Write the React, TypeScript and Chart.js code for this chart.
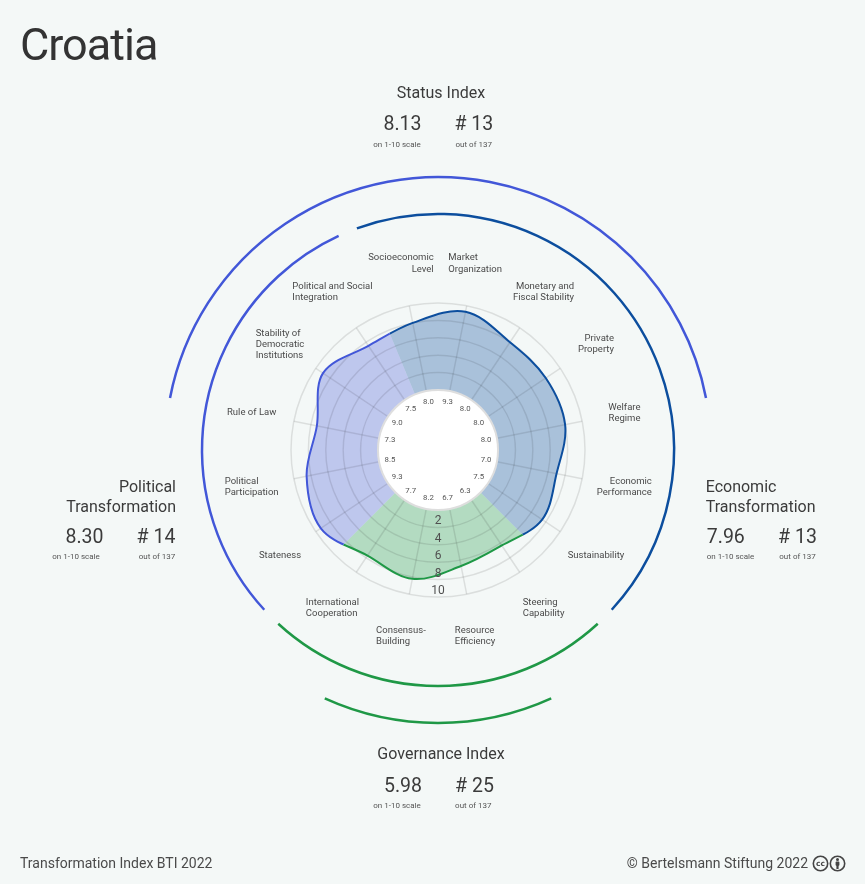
import { useEffect, useRef } from "react";
import { Chart, registerables } from "chart.js";

Chart.register(...registerables);

// criteria, clockwise from the top (economic, governance, political)
const CRITERIA: string[][] = [
  ["Socioeconomic", "Level"],
  ["Market", "Organization"],
  ["Monetary and", "Fiscal Stability"],
  ["Private", "Property"],
  ["Welfare", "Regime"],
  ["Economic", "Performance"],
  ["Sustainability"],
  ["Steering", "Capability"],
  ["Resource", "Efficiency"],
  ["Consensus-", "Building"],
  ["International", "Cooperation"],
  ["Stateness"],
  ["Political", "Participation"],
  ["Rule of Law"],
  ["Stability of", "Democratic", "Institutions"],
  ["Political and Social", "Integration"],
];
const SCORES = [8.0, 9.3, 8.0, 8.0, 8.0, 7.0, 7.5, 6.3, 6.7, 8.2, 7.7, 9.3, 8.5, 7.3, 9.0, 7.5];
const SECTION_SIZES = [7, 4, 5]; // economic, governance, political
const TICKS = [2, 4, 6, 8, 10];

const INDEX_TITLES = [["Status Index"], ["Political", "Transformation"], ["Economic", "Transformation"], ["Governance Index"]];
const INDEX_SCORES = ["8.13", "8.30", "7.96", "5.98"];
const INDEX_RANKS = [13, 14, 13, 25];
const COUNTRY_COUNT = 137;

// styles
const BG = "#f4f8f7";
const FONT = "Roboto, 'Noto Sans', sans-serif";
const SECTION_COLORS = ["#0c4e9e", "#1f9846", "#4257d8"];
const SECTION_FILLS = ["rgba(12,78,158,0.32)", "rgba(31,152,70,0.3)", "rgba(66,87,216,0.3)"];
const GRID = "rgba(0,0,0,0.1)";
const LABEL_ALIGN = ["right", "left", "right", "right", "right", "right", "left", "left",
  "left", "left", "left", "left", "left", "left", "left", "left"];

const HALF_PI = Math.PI / 2;
const rad = (d: number) => (d * Math.PI) / 180;

function paintShape(chart: any, mode: "fill" | "stroke") {
  const s = chart.scales.r;
  const line = chart.getDatasetMeta(0).dataset;
  if (!line || !line.points || !line.points.length) return;
  line.updateControlPoints(chart.chartArea, "r");
  const ctx = chart.ctx;
  const step = (Math.PI * 2) / CRITERIA.length;
  let first = 0;
  SECTION_SIZES.forEach((n, k) => {
    const a0 = s.getIndexAngle(first) - HALF_PI - step / 2;
    const a1 = a0 + n * step;
    ctx.save();
    ctx.beginPath();
    ctx.moveTo(s.xCenter, s.yCenter);
    ctx.arc(s.xCenter, s.yCenter, s.drawingArea * 2, a0, a1);
    ctx.closePath();
    ctx.clip();
    ctx.beginPath();
    line.path(ctx);
    ctx.closePath();
    if (mode === "fill") {
      ctx.fillStyle = SECTION_FILLS[k];
      ctx.fill();
    } else {
      ctx.strokeStyle = SECTION_COLORS[k];
      ctx.lineWidth = 2;
      ctx.lineJoin = "round";
      ctx.stroke();
    }
    ctx.restore();
    first += n;
  });
}

const decorPlugin = {
  id: "btiDecor",
  afterDatasetsDraw(chart: any) {
    paintShape(chart, "fill");
  },
  afterDraw(chart: any) {
    const ctx = chart.ctx;
    const s = chart.scales.r;
    const cx = s.xCenter, cy = s.yCenter, R = s.drawingArea;
    paintShape(chart, "stroke");

    // inner disc with the criterion scores
    const r0 = s.getDistanceFromCenterForValue(0);
    ctx.save();
    ctx.beginPath();
    ctx.arc(cx, cy, r0, 0, Math.PI * 2);
    ctx.fillStyle = "#ffffff";
    ctx.fill();
    ctx.lineWidth = 2;
    ctx.strokeStyle = "#dedede";
    ctx.stroke();

    ctx.textAlign = "center";
    ctx.textBaseline = "middle";
    ctx.fillStyle = "#555";
    ctx.font = `7.8px ${FONT}`;
    SCORES.forEach((v, i) => {
      const p = s.getPointPosition(i, r0 - 11);
      ctx.fillText(v.toFixed(1), p.x, p.y);
    });

    // ring values along the bottom
    ctx.font = `12px ${FONT}`;
    ctx.fillStyle = "#505050";
    TICKS.forEach((t) => {
      ctx.fillText(String(t), cx, cy + s.getDistanceFromCenterForValue(t) - 6);
    });

    // criterion names
    ctx.font = `9.5px ${FONT}`;
    ctx.fillStyle = "#4a4a4a";
    const lh = 11.3;
    CRITERIA.forEach((lines, i) => {
      const p = s.getPointPosition(i, R + 43);
      const w = Math.max(...lines.map((l) => ctx.measureText(l).width));
      const align = LABEL_ALIGN[i];
      ctx.textAlign = align as CanvasTextAlign;
      const x = align === "left" ? p.x - w / 2 : p.x + w / 2;
      lines.forEach((l, j) => {
        ctx.fillText(l, x, p.y + (j - (lines.length - 1) / 2) * lh);
      });
    });

    // section arcs
    const step = (Math.PI * 2) / CRITERIA.length;
    const gap = rad(2.4);
    ctx.lineWidth = 2.5;
    ctx.lineCap = "butt";
    let first = 0;
    SECTION_SIZES.forEach((n, k) => {
      const a0 = s.getIndexAngle(first) - HALF_PI - step / 2;
      ctx.beginPath();
      ctx.arc(cx, cy, R + 89, a0 + gap, a0 + n * step - gap);
      ctx.strokeStyle = SECTION_COLORS[k];
      ctx.stroke();
      first += n;
    });
    // status index arc (top) and governance index arc (bottom)
    ctx.beginPath();
    ctx.arc(cx, cy, R + 126, rad(-79) - HALF_PI, rad(79) - HALF_PI);
    ctx.strokeStyle = SECTION_COLORS[2];
    ctx.stroke();
    ctx.beginPath();
    ctx.arc(cx, cy, R + 126, rad(155.5) - HALF_PI, rad(204.5) - HALF_PI);
    ctx.strokeStyle = SECTION_COLORS[1];
    ctx.stroke();
    ctx.restore();
  },
};

type Align = "left" | "center" | "right";

function T(props: { x: number; y: number; size: number; align?: Align; color?: string; children: any; ls?: number }) {
  const { x, y, size, align = "center", color = "#3b3b3b", children, ls = 0 } = props;
  const tx = align === "center" ? "-50%" : align === "right" ? "-100%" : "0";
  return (
    <div
      style={{
        position: "absolute",
        left: x,
        top: y,
        transform: `translate(${tx}, -50%)`,
        fontSize: size,
        lineHeight: 1,
        whiteSpace: "nowrap",
        color,
        letterSpacing: ls,
      }}
    >
      {children}
    </div>
  );
}

// title anchor, title alignment, score x, caption x, rank x, out-of x, score row y
const BLOCK_LAYOUT: { tx: number; ty: number; ta: Align; sx: number; cx: number; rx: number; ox: number; vy: number }[] = [
  { tx: 441, ty: 92.5, ta: "center", sx: 402.5, cx: 397, rx: 473.8, ox: 473.7, vy: 124 },
  { tx: 176, ty: 487, ta: "right", sx: 84.5, cx: 76, rx: 156, ox: 157, vy: 536.7 },
  { tx: 705.7, ty: 487, ta: "left", sx: 725.8, cx: 730.5, rx: 797.5, ox: 797.5, vy: 536.7 },
  { tx: 441, ty: 753.5, ta: "center", sx: 403, cx: 397, rx: 474.5, ox: 473.3, vy: 785.8 },
];

function CcIcons() {
  return (
    <svg width="34" height="17" viewBox="0 0 34 17" style={{ position: "absolute", left: 812, top: 855 }}>
      <circle cx="8.5" cy="8.5" r="7.2" fill="none" stroke="#444" strokeWidth="1.6" />
      <text x="8.5" y="11.2" textAnchor="middle" fontSize="7.5" fontWeight="bold" fill="#444" fontFamily="DejaVu Sans, sans-serif">cc</text>
      <circle cx="25.5" cy="8.5" r="7.2" fill="none" stroke="#444" strokeWidth="1.6" />
      <circle cx="25.5" cy="4.6" r="1.5" fill="#444" />
      <rect x="23.6" y="6.6" width="3.8" height="4.2" rx="0.8" fill="#444" />
      <rect x="24.4" y="10" width="2.2" height="4" fill="#444" />
    </svg>
  );
}

export default function App() {
  const canvasRef = useRef<HTMLCanvasElement>(null);
  const chartRef = useRef<any>(null);

  useEffect(() => {
    if (!canvasRef.current) return;
    chartRef.current?.destroy();
    chartRef.current = new Chart(canvasRef.current, {
      type: "radar",
      data: {
        labels: CRITERIA,
        datasets: [
          {
            data: SCORES,
            borderWidth: 0,
            pointRadius: 0,
            pointHoverRadius: 0,
            fill: false,
            tension: 0.35,
            backgroundColor: "transparent",
          },
        ],
      },
      options: {
        responsive: true,
        maintainAspectRatio: false,
        animation: false,
        events: [],
        layout: { padding: { left: 291, right: 280, top: 303, bottom: 287 } },
        plugins: { legend: { display: false }, tooltip: { enabled: false } },
        scales: {
          r: {
            min: -6.9,
            max: 10,
            startAngle: -180 / CRITERIA.length,
            afterBuildTicks: (sc: any) => {
              sc.ticks = TICKS.map((v) => ({ value: v }));
            },
            ticks: { display: false, z: 1 },
            pointLabels: { display: false },
            grid: { circular: true, color: GRID, lineWidth: 1.5, z: 1 },
            angleLines: { color: GRID, lineWidth: 1.5 },
          },
        },
      } as any,
      plugins: [decorPlugin],
    });
    return () => {
      chartRef.current?.destroy();
      chartRef.current = null;
    };
  }, []);

  return (
    <div
      style={{
        position: "absolute",
        left: 0,
        top: 0,
        width: 865,
        height: 884,
        background: BG,
        overflow: "hidden",
        fontFamily: FONT,
      }}
    >
      <div style={{ position: "absolute", left: 0, top: 0, width: 865, height: 884 }}>
        <canvas ref={canvasRef} />
      </div>

      <T x={20} y={44} size={45} align="left" color="#333" ls={-1}>Croatia</T>

      {BLOCK_LAYOUT.map((b, i) => (
        <div key={i}>
          {INDEX_TITLES[i].map((line, j) => (
            <T key={j} x={b.tx} y={b.ty + j * 19.7} size={16} align={b.ta}>{line}</T>
          ))}
          <T x={b.sx} y={b.vy} size={19.5}>{INDEX_SCORES[i]}</T>
          <T x={b.rx} y={b.vy} size={19.5}>{`# ${INDEX_RANKS[i]}`}</T>
          <T x={b.cx} y={b.vy + 20.5} size={8} color="#555">on 1-10 scale</T>
          <T x={b.ox} y={b.vy + 20.5} size={8} color="#555">{`out of ${COUNTRY_COUNT}`}</T>
        </div>
      ))}

      <T x={20} y={863} size={14} align="left" color="#4a4a4a">Transformation Index BTI 2022</T>
      <T x={808} y={863} size={14} align="right" color="#4a4a4a">© Bertelsmann Stiftung 2022</T>
      <CcIcons />
    </div>
  );
}
